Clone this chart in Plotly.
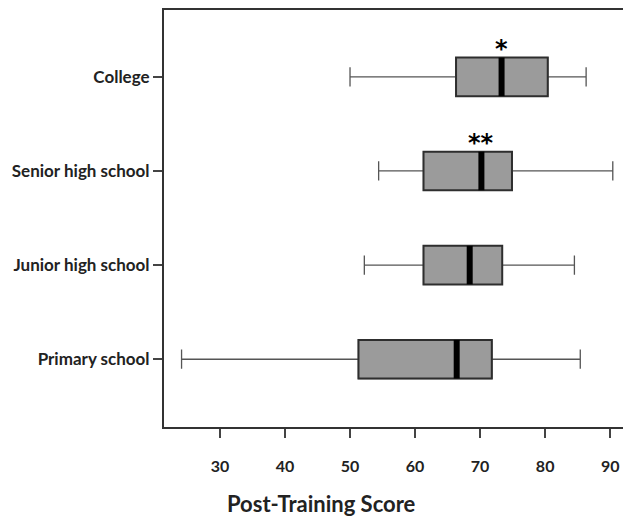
import plotly.graph_objects as go

categories = ["Primary school", "Junior high school", "Senior high school", "College"]
lower = [24.1, 52.2, 54.4, 50.0]
q1 = [51.3, 61.3, 61.3, 66.3]
median = [66.4, 68.4, 70.2, 73.3]
q3 = [71.8, 73.4, 74.9, 80.4]
upper = [85.4, 84.5, 90.4, 86.3]
significance = ["", "", "**", "*"]
x_ticks = [30, 40, 50, 60, 70, 80, 90]

pos = list(range(len(categories)))
half = 0.205
FONT = "Lato"

fig = go.Figure()
# whiskers (thin)
fig.add_trace(go.Box(
    orientation="h", y=pos, q1=q1, median=median, q3=q3,
    lowerfence=lower, upperfence=upper, width=2 * half,
    fillcolor="#9b9b9b", line=dict(color="#555555", width=1.3),
    whiskerwidth=0.5, boxpoints=False, showlegend=False, hoverinfo="skip",
))
# box outline (heavier)
fig.add_trace(go.Box(
    orientation="h", y=pos, q1=q1, median=median, q3=q3,
    lowerfence=q1, upperfence=q3, width=2 * half,
    fillcolor="#9b9b9b", line=dict(color="#2e2e2e", width=2),
    whiskerwidth=0, boxpoints=False, showlegend=False, hoverinfo="skip",
))

mx, my = [], []
for p, m in zip(pos, median):
    mx += [m, m, None]
    my += [p - half, p + half, None]
fig.add_trace(go.Scatter(x=mx, y=my, mode="lines",
                         line=dict(color="black", width=6),
                         showlegend=False, hoverinfo="skip"))

for p, m, s in zip(pos, median, significance):
    if s:
        fig.add_annotation(x=m, y=p + half, text=s, showarrow=False,
                           yanchor="bottom", yshift=-7,
                           font=dict(family="DejaVu Sans", size=24, color="black",
                                     weight="bold"))

fig.add_annotation(text="Post-Training Score", xref="paper", yref="paper",
                   x=0.338, y=0, xanchor="center", yanchor="middle", yshift=-76,
                   showarrow=False,
                   font=dict(family=FONT, size=22, color="#222", weight="bold"))

fig.update_layout(
    width=623, height=511,
    margin=dict(l=156, r=0, t=2, b=92),
    boxmode="overlay",
    plot_bgcolor="white", paper_bgcolor="white",
    font=dict(family=FONT, color="#222"),
    xaxis=dict(range=[21.4, 93.2], tickvals=x_ticks, showgrid=False, zeroline=False,
               showline=True, linecolor="#333", linewidth=2, mirror=True,
               ticks="outside", ticklen=9, tickwidth=2, tickcolor="#444",
               ticklabelstandoff=15,
               tickfont=dict(family=FONT, size=16, color="#222", weight="bold")),
    yaxis=dict(range=[-0.72, 3.71], tickvals=pos, ticktext=categories, showgrid=False,
               zeroline=False, showline=True, linecolor="#333", linewidth=2,
               ticks="outside", ticklen=9, tickwidth=1.5, tickcolor="#444",
               ticklabelstandoff=0,
               tickfont=dict(family=FONT, size=17, color="#222", weight="bold")),
)

fig.write_html("out.html")
